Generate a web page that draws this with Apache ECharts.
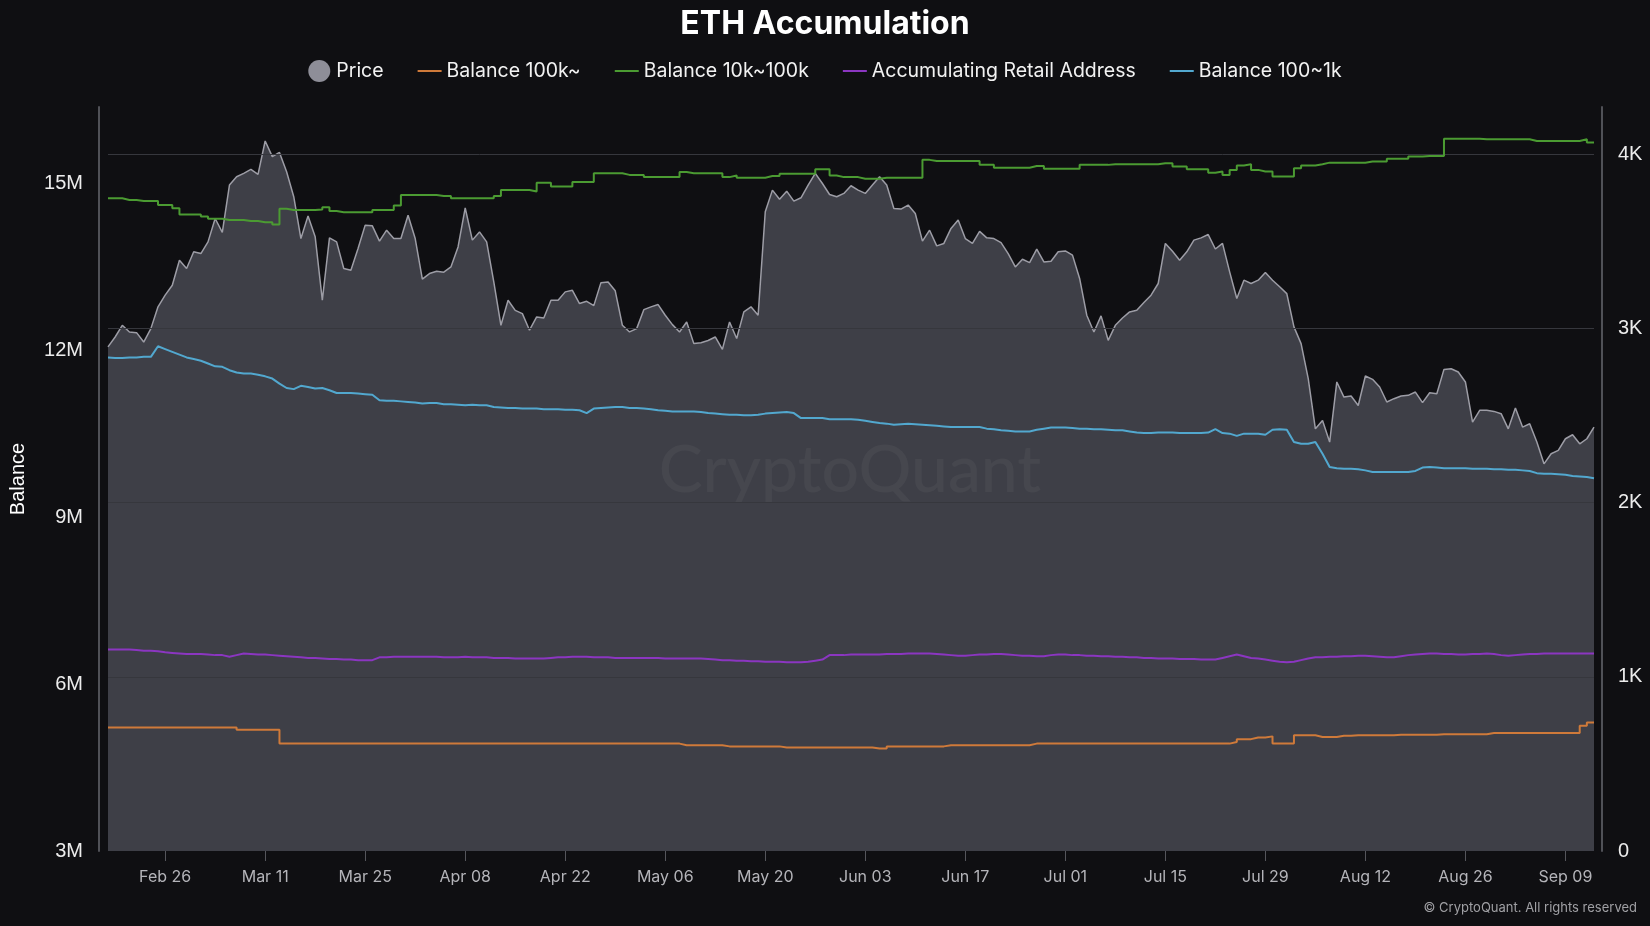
<!DOCTYPE html>
<html>
<head>
<meta charset="utf-8">
<title>ETH Accumulation</title>
<script src="https://cdn.jsdelivr.net/npm/echarts@6/dist/echarts.min.js"></script>
<style>
  html, body { margin: 0; padding: 0; background: #0f0f12; }
  #chart { width: 1650px; height: 926px; }
</style>
</head>
<body>
<div id="chart"></div>
<script>
// ---- Data (daily, 2024-02-18 .. 2024-09-13) ----
const startDate = '2024-02-18';
const dayCount = 209;

// ETH price (USD), right axis
const price = [
  2893,2950,3017,2979,2975,2921,2998,3123,3190,3247,
  3390,3343,3439,3429,3496,3630,3550,3822,3870,3889,
  3912,3883,4075,3985,4009,3898,3755,3515,3645,3525,
  3161,3519,3496,3343,3333,3458,3592,3588,3500,3563,
  3515,3515,3649,3515,3282,3314,3327,3322,3352,3467,
  3691,3506,3553,3496,3266,3017,3161,3103,3084,2989,
  3065,3059,3161,3161,3209,3218,3142,3155,3130,3262,
  3266,3215,3017,2979,2998,3107,3123,3136,3075,3021,
  2979,3036,2912,2917,2930,2950,2879,3036,2941,3094,
  3123,3075,3669,3793,3741,3787,3730,3749,3822,3889,
  3831,3768,3755,3774,3818,3793,3774,3822,3870,3822,
  3688,3684,3707,3659,3500,3563,3473,3487,3573,3621,
  3515,3487,3556,3519,3515,3492,3429,3352,3396,3377,
  3454,3381,3385,3439,3444,3420,3286,3075,2979,3071,
  2931,3017,3059,3094,3103,3148,3190,3257,3487,3442,
  3391,3439,3506,3519,3538,3455,3487,3324,3171,3276,
  3257,3276,3320,3276,3238,3199,3008,2912,2711,2423,
  2471,2347,2692,2605,2611,2557,2726,2707,2663,2577,
  2596,2611,2615,2634,2573,2630,2624,2764,2768,2749,
  2692,2462,2529,2529,2523,2510,2423,2542,2433,2452,
  2347,2222,2280,2299,2366,2389,2337,2366,2433
];

// Balance 100k~ (millions ETH)
const balance100k = [
  5.22,5.22,5.22,5.22,5.22,5.22,5.22,5.22,5.22,5.22,5.22,5.22,5.22,5.22,5.22,5.22,5.22,5.22,
  5.18,5.18,5.18,5.18,5.18,5.18,
  4.93,4.93,4.93,4.93,4.93,4.93,4.93,4.93,4.93,4.93,4.93,4.93,4.93,4.93,4.93,4.93,4.93,4.93,4.93,4.93,
  4.93,4.93,4.93,4.93,4.93,4.93,4.93,4.93,4.93,4.93,4.93,4.93,4.93,4.93,4.93,4.93,4.93,4.93,4.93,4.93,
  4.93,4.93,4.93,4.93,4.93,4.93,4.93,4.93,4.93,4.93,4.93,4.93,4.93,4.93,4.93,4.93,
  4.90,4.90,4.90,4.90,4.90,4.90,
  4.88,4.88,4.88,4.88,4.88,4.88,4.88,4.88,
  4.86,4.86,4.86,4.86,4.86,4.86,4.86,4.86,4.86,4.86,4.86,4.86,4.86,
  4.84,4.84,
  4.88,4.88,4.88,4.88,4.88,4.88,4.88,4.88,
  4.90,4.90,4.90,4.90,4.90,4.90,4.90,4.90,4.90,4.90,4.90,4.90,
  4.93,4.93,4.93,4.93,4.93,4.93,4.93,4.93,4.93,4.93,4.93,4.93,4.93,4.93,
  4.93,4.93,4.93,4.93,4.93,4.93,4.93,4.93,4.93,4.93,4.93,4.93,4.93,4.93,
  4.96,5.01,5.01,5.04,5.04,5.06,4.93,4.93,4.93,5.08,5.08,5.08,5.05,5.05,5.05,
  5.07,5.07,5.08,5.08,5.08,5.08,5.08,5.08,5.09,5.09,5.09,5.09,5.09,5.09,5.10,5.10,5.10,5.10,5.10,5.10,5.10,
  5.12,5.12,5.12,5.12,5.12,5.12,5.12,5.12,5.12,5.12,5.12,5.12,5.12,
  5.25,5.31,5.31
];

// Balance 10k~100k (millions ETH)
const balance10k = [
  14.73,14.73,14.70,14.70,14.68,14.68,14.68,14.61,14.61,14.55,
  14.44,14.44,14.44,14.40,14.36,14.36,14.34,14.34,14.34,14.32,
  14.32,14.30,14.30,14.26,14.54,14.52,14.52,14.52,14.52,14.53,
  14.57,14.50,14.48,14.48,14.48,14.48,14.48,14.52,14.52,14.52,
  14.60,14.79,14.79,14.79,14.79,14.79,14.77,14.77,14.73,14.73,
  14.73,14.73,14.73,14.73,14.77,14.88,14.88,14.88,14.88,14.85,
  15.01,15.01,14.94,14.94,14.94,15.02,15.02,15.02,15.18,15.18,
  15.18,15.18,15.15,15.15,15.15,15.11,15.11,15.11,15.11,15.11,
  15.20,15.18,15.18,15.18,15.18,15.18,15.11,15.14,15.10,15.10,
  15.10,15.10,15.13,15.13,15.17,15.17,15.17,15.17,15.17,15.25,
  15.25,15.14,15.11,15.11,15.11,15.08,15.08,15.08,15.10,15.10,
  15.10,15.10,15.10,15.10,15.42,15.40,15.40,15.40,15.40,15.40,
  15.40,15.40,15.33,15.33,15.28,15.28,15.28,15.28,15.28,15.31,
  15.31,15.26,15.26,15.26,15.26,15.26,15.33,15.33,15.33,15.33,
  15.34,15.34,15.34,15.34,15.34,15.34,15.34,15.36,15.36,15.30,
  15.30,15.25,15.25,15.25,15.19,15.21,15.15,15.24,15.32,15.34,
  15.24,15.21,15.21,15.12,15.12,15.12,15.27,15.32,15.32,15.34,
  15.37,15.37,15.37,15.37,15.37,15.37,15.39,15.39,15.39,15.44,
  15.44,15.44,15.48,15.48,15.49,15.49,15.49,15.80,15.80,15.80,
  15.80,15.80,15.79,15.79,15.79,15.79,15.79,15.79,15.79,15.76,
  15.76,15.76,15.76,15.76,15.76,15.76,15.79,15.73,15.73
];

// Accumulating Retail Address (millions)
const retail = [
  6.62,6.62,6.62,6.62,6.61,6.60,6.60,6.59,6.57,6.56,
  6.55,6.54,6.54,6.54,6.53,6.52,6.52,6.49,6.52,6.55,
  6.54,6.53,6.53,6.52,6.51,6.50,6.49,6.48,6.47,6.47,
  6.46,6.45,6.45,6.44,6.44,6.43,6.43,6.43,6.48,6.48,
  6.49,6.49,6.49,6.49,6.49,6.49,6.49,6.48,6.48,6.48,
  6.49,6.48,6.48,6.48,6.47,6.47,6.47,6.46,6.46,6.46,
  6.46,6.46,6.47,6.48,6.48,6.49,6.49,6.49,6.48,6.48,
  6.48,6.47,6.47,6.47,6.47,6.47,6.47,6.47,6.46,6.46,
  6.46,6.46,6.46,6.46,6.45,6.44,6.43,6.43,6.42,6.42,
  6.41,6.41,6.40,6.40,6.40,6.39,6.39,6.39,6.40,6.42,
  6.44,6.52,6.52,6.52,6.53,6.53,6.53,6.53,6.53,6.54,
  6.54,6.54,6.55,6.55,6.55,6.55,6.54,6.53,6.52,6.51,
  6.51,6.52,6.53,6.53,6.54,6.54,6.53,6.52,6.51,6.51,
  6.50,6.50,6.52,6.53,6.53,6.52,6.52,6.51,6.51,6.50,
  6.50,6.49,6.49,6.48,6.48,6.47,6.47,6.46,6.46,6.46,
  6.45,6.45,6.45,6.44,6.44,6.44,6.47,6.50,6.53,6.50,
  6.47,6.46,6.44,6.42,6.40,6.39,6.40,6.43,6.46,6.48,
  6.48,6.49,6.49,6.50,6.50,6.51,6.51,6.50,6.49,6.48,
  6.48,6.50,6.52,6.53,6.54,6.55,6.55,6.54,6.54,6.53,
  6.53,6.54,6.54,6.55,6.54,6.52,6.51,6.52,6.53,6.54,
  6.54,6.55,6.55,6.55,6.55,6.55,6.55,6.55,6.55
];

// Balance 100~1k (millions ETH)
const balance100 = [
  11.87,11.86,11.86,11.87,11.87,11.88,11.88,
  12.07,12.02,11.97,11.92,11.87,11.84,11.81,11.76,11.71,11.70,
  11.64,11.60,11.58,11.58,11.56,11.53,11.49,11.40,11.32,11.30,
  11.36,11.34,11.31,11.32,11.28,11.23,11.23,11.23,11.22,11.21,
  11.20,11.10,11.09,11.09,11.08,11.07,11.06,11.04,11.05,11.05,
  11.03,11.03,11.02,11.01,11.02,11.01,
  11.01,10.98,10.97,10.96,10.96,10.95,10.95,10.95,10.94,10.94,
  10.94,10.93,10.93,10.92,10.87,10.95,10.96,10.97,10.98,10.98,
  10.96,10.96,10.95,10.94,10.92,10.91,10.90,10.90,10.90,10.90,
  10.89,10.87,10.86,10.85,10.84,10.84,10.83,10.83,10.84,10.86,
  10.87,10.88,10.89,10.87,10.78,10.78,10.78,10.78,10.76,10.76,10.76,
  10.76,10.75,10.73,10.71,10.69,10.68,10.66,10.67,10.68,10.67,
  10.66,10.65,10.64,10.63,10.62,10.62,10.62,10.62,10.62,10.59,
  10.58,10.56,10.55,10.54,10.54,10.54,10.57,10.59,10.61,10.61,
  10.61,10.60,10.59,10.59,10.58,10.58,10.57,10.56,10.56,10.54,
  10.52,10.51,10.51,10.52,10.52,10.52,10.51,10.51,10.51,10.51,10.52,10.58,
  10.51,10.50,10.46,10.50,10.50,10.50,10.48,10.57,10.58,10.57,
  10.35,10.32,10.32,10.35,10.14,9.90,9.88,9.87,9.87,9.86,
  9.84,9.81,9.81,9.81,9.81,9.81,9.81,9.83,9.89,9.90,
  9.89,9.88,9.88,9.88,9.88,9.87,9.87,9.87,9.86,9.86,
  9.85,9.85,9.84,9.83,9.79,9.78,9.78,9.77,9.76,9.74,9.73,9.72,9.70
];

const leftTicks = { min: 3, max: 16.37, interval: 3 };      // millions
const rightTicks = { min: 0, max: 4270, interval: 1000 };   // USD

// ---- Categories ----
const monthNames = ['Jan','Feb','Mar','Apr','May','Jun','Jul','Aug','Sep','Oct','Nov','Dec'];
const categories = [];
(function () {
  const t0 = Date.parse(startDate + 'T00:00:00Z');
  for (let i = 0; i < dayCount; i++) {
    const d = new Date(t0 + i * 86400000);
    const dd = String(d.getUTCDate()).padStart(2, '0');
    categories.push(monthNames[d.getUTCMonth()] + ' ' + dd);
  }
})();
const firstLabelIndex = 8;   // Feb 26
const labelStep = 14;
const showIdx = (i) => i >= firstLabelIndex && (i - firstLabelIndex) % labelStep === 0;

const chart = echarts.init(document.getElementById('chart'), null, { renderer: 'canvas' });

const lineIcon = 'path://M0,0 L24,0 L24,2 L0,2 Z';
const lineSeries = (name, data, color, step) => ({
  name, type: 'line', data, yAxisIndex: 0, symbol: 'none', step: step || false,
  z: 4, lineStyle: { color, width: 2 }, itemStyle: { color }, emphasis: { disabled: true }
});

chart.setOption({
  backgroundColor: '#0f0f12',
  animation: false,
  title: {
    text: 'ETH Accumulation', left: 'center', top: 3,
    textStyle: { color: '#ffffff', fontSize: 32, fontWeight: 'bold', fontFamily: 'Inter' }
  },
  legend: {
    top: 55, left: 'center', itemWidth: 24, itemHeight: 22, itemGap: 34,
    textStyle: { color: '#f2f2f2', fontSize: 19.5, fontFamily: 'Inter' },
    data: [
      { name: 'Price', icon: 'circle', itemStyle: { color: '#8e8e98' } },
      { name: 'Balance 100k~', icon: lineIcon },
      { name: 'Balance 10k~100k', icon: lineIcon },
      { name: 'Accumulating Retail Address', icon: lineIcon },
      { name: 'Balance 100~1k', icon: lineIcon }
    ]
  },
  grid: { left: 107, right: 56, top: 107, bottom: 75 },
  xAxis: {
    type: 'category', data: categories, boundaryGap: false,
    axisLine: { show: false },
    axisTick: { show: true, interval: (i) => showIdx(i), length: 10, lineStyle: { color: '#55565c' } },
    axisLabel: { interval: (i) => showIdx(i), color: '#b4b4b9', fontSize: 16, fontFamily: 'Inter', margin: 18 },
    splitLine: { show: false }
  },
  yAxis: [
    {
      type: 'value', position: 'left', offset: 9,
      min: leftTicks.min, max: leftTicks.max, interval: leftTicks.interval,
      name: 'Balance', nameLocation: 'middle', nameGap: 71,
      nameTextStyle: { color: '#ffffff', fontSize: 20, fontFamily: 'Liberation Sans' },
      axisLine: { show: true, lineStyle: { color: '#505157', width: 2 } },
      axisTick: { show: false },
      axisLabel: { color: '#ececec', fontSize: 20, fontFamily: 'Liberation Sans', margin: 16,
                   showMaxLabel: false, formatter: (v) => v + 'M' },
      splitLine: { show: false }
    },
    {
      type: 'value', position: 'right', offset: 8, z: 3,
      min: rightTicks.min, max: rightTicks.max, interval: rightTicks.interval,
      axisLine: { show: true, lineStyle: { color: '#505157', width: 2 } },
      axisTick: { show: false },
      axisLabel: { color: '#ececec', fontSize: 20, fontFamily: 'Liberation Sans', margin: 16,
                   showMaxLabel: false, formatter: (v) => v === 0 ? '0' : (v / 1000) + 'K' },
      splitLine: { show: true, showMinLine: false, showMaxLine: false,
                   lineStyle: { color: '#36373d', width: 1 } }
    }
  ],
  series: [
    {
      name: 'Price', type: 'line', data: price, yAxisIndex: 1, symbol: 'none', z: 1,
      lineStyle: { color: '#9d9da6', width: 1.5 },
      itemStyle: { color: '#8e8e98' },
      areaStyle: { color: 'rgba(110,112,124,0.5)', opacity: 1 },
      emphasis: { disabled: true }
    },
    lineSeries('Balance 100k~', balance100k, '#cf7a3a', 'end'),
    lineSeries('Balance 10k~100k', balance10k, '#4b9b32', 'end'),
    lineSeries('Accumulating Retail Address', retail, '#8b36c1'),
    lineSeries('Balance 100~1k', balance100, '#52a8cf')
  ],
  graphic: [
    {
      type: 'text', x: 850, y: 471, z: 3, silent: true,
      style: { text: 'CryptoQuant', fill: 'rgba(255,255,255,0.045)', font: '500 66px Lato',
               align: 'center', verticalAlign: 'middle' }
    },
    {
      type: 'text', right: 13, top: 902, silent: true,
      style: { text: '\u00A9 CryptoQuant. All rights reserved', fill: '#a0a0a4', font: '13px Inter' }
    }
  ]
});
</script>
</body>
</html>
